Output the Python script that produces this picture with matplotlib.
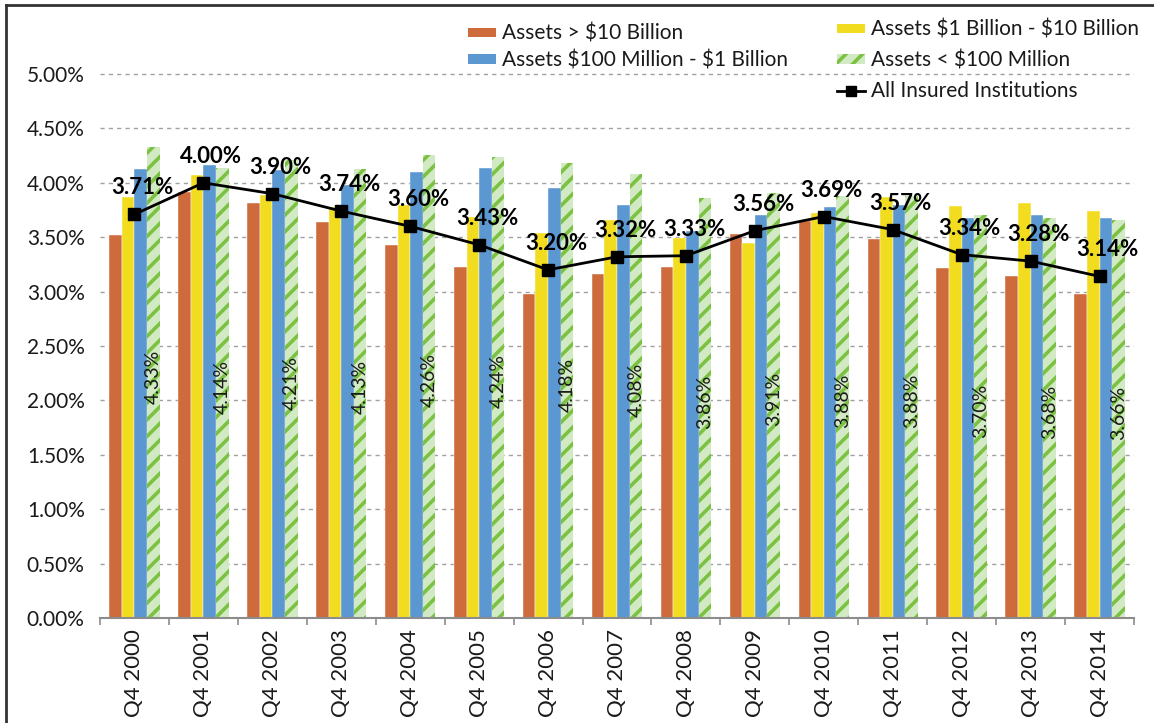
import numpy as np
import matplotlib
matplotlib.use("Agg")
import matplotlib.pyplot as plt
from matplotlib.patches import Patch
from matplotlib.lines import Line2D

quarters = ['Q4 2000', 'Q4 2001', 'Q4 2002', 'Q4 2003', 'Q4 2004', 'Q4 2005',
            'Q4 2006', 'Q4 2007', 'Q4 2008', 'Q4 2009', 'Q4 2010', 'Q4 2011',
            'Q4 2012', 'Q4 2013', 'Q4 2014']

# net interest margin (%) by asset size group
over_10b = [3.52, 3.92, 3.81, 3.64, 3.43, 3.23, 2.98, 3.16, 3.23, 3.53, 3.65, 3.48, 3.22, 3.14, 2.98]
b1_to_10b = [3.87, 4.07, 3.89, 3.78, 3.80, 3.69, 3.54, 3.66, 3.49, 3.45, 3.72, 3.87, 3.79, 3.81, 3.74]
m100_to_1b = [4.13, 4.16, 4.12, 3.98, 4.10, 4.14, 3.95, 3.80, 3.56, 3.70, 3.78, 3.80, 3.68, 3.70, 3.68]
under_100m = [4.33, 4.14, 4.21, 4.13, 4.26, 4.24, 4.18, 4.08, 3.86, 3.91, 3.88, 3.88, 3.70, 3.68, 3.66]
all_insured = [3.71, 4.00, 3.90, 3.74, 3.60, 3.43, 3.20, 3.32, 3.33, 3.56, 3.69, 3.57, 3.34, 3.28, 3.14]

labels = ['Assets > $10 Billion', 'Assets $100 Million - $1 Billion',
          'Assets $1 Billion - $10 Billion', 'Assets < $100 Million',
          'All Insured Institutions']

orange = '#cd6b3c'
yellow = '#f2dc1f'
blue = '#5b97d1'
green_bg = '#d2eac4'
green = '#7cc242'
txt = '#1a1a1a'

plt.rcParams['font.family'] = ['Lato', 'DejaVu Sans']
plt.rcParams['hatch.linewidth'] = 2.6
plt.rcParams['text.parse_math'] = False

W, H = 1154, 723
fig = plt.figure(figsize=(W / 100, H / 100), dpi=100)
ax = fig.add_axes([100 / W, 1 - 618 / H, (1134 - 100) / W, (618 - 19.6) / H])

x = np.arange(len(quarters))
w = 0.183
ax.bar(x - 1.5 * w, over_10b, w, color=orange, edgecolor='white', linewidth=0.3, zorder=2)
ax.bar(x - 0.5 * w, b1_to_10b, w, color=yellow, edgecolor='white', linewidth=0.3, zorder=2)
ax.bar(x + 0.5 * w, m100_to_1b, w, color=blue, edgecolor='white', linewidth=0.3, zorder=2)
ax.bar(x + 1.5 * w, under_100m, w, facecolor=green_bg, edgecolor=green, hatch='//',
       linewidth=0, zorder=2)
ax.plot(x, all_insured, color='black', lw=2, marker='s', ms=9, zorder=5)

for i, v in enumerate(all_insured):
    ax.annotate(f'{v:.2f}%', (x[i], v), xytext=(8, 20), textcoords='offset pixels',
                ha='center', va='baseline', fontsize=16, fontweight='bold',
                color='black', zorder=6)

for i, v in enumerate(under_100m):
    ax.annotate(f'{v:.2f}%', (x[i] + 1.5 * w, v / 2), xytext=(0, 6), textcoords='offset pixels',
                ha='center', va='center', rotation=90, fontsize=14, color=txt, zorder=6)

ax.set_xlim(-0.5, len(quarters) - 0.5)
ax.set_ylim(0, 5.5)
yt = np.arange(0, 5.01, 0.5)
ax.set_yticks(yt)
ax.set_yticklabels([f'{v:.2f}%' for v in yt], fontsize=15, color=txt)
ax.tick_params(axis='y', length=0, pad=11)

ax.set_xticks(np.arange(-0.5, len(quarters), 1))
ax.set_xticklabels([])
ax.set_xticks(x, minor=True)
ax.set_xticklabels(quarters, minor=True, rotation=90, fontsize=16, color=txt)
ax.tick_params(axis='x', which='major', length=5, width=1.2, color='#8c8c8c')
ax.tick_params(axis='x', which='minor', length=0, pad=8)

ax.yaxis.grid(True, linestyle=(0, (3, 3)), color='#a0a0a0', lw=1)
ax.set_axisbelow(True)
for s in ['top', 'right', 'left']:
    ax.spines[s].set_visible(False)
ax.spines['bottom'].set_color('#8c8c8c')
ax.spines['bottom'].set_linewidth(1.5)

h_orange = Patch(facecolor=orange)
h_blue = Patch(facecolor=blue)
h_yellow = Patch(facecolor=yellow)
h_green = Patch(facecolor=green_bg, edgecolor=green, hatch='//', linewidth=0)
h_line = Line2D([], [], color='black', lw=2, marker='s', ms=7)

leg_kw = dict(loc='upper left', frameon=False, borderpad=0, borderaxespad=0,
              handlelength=1.35, handleheight=0.35, handletextpad=0.3,
              fontsize=15, labelcolor=txt)
fig.legend([h_orange, h_blue], labels[:2], bbox_to_anchor=(468 / W, 1 - 24 / H),
           labelspacing=0.3, **leg_kw)
fig.legend([h_yellow, h_green, h_line], labels[2:], bbox_to_anchor=(837 / W, 1 - 20 / H),
           labelspacing=0.5, **leg_kw)

# frame around the figure
fig.add_artist(Line2D([6 / W, 1], [1 - 5 / H, 1 - 5 / H], color='#333333', lw=2))
fig.add_artist(Line2D([6 / W, 6 / W], [0, 1 - 5 / H], color='#333333', lw=2))

fig.savefig('out.png', dpi=100)
